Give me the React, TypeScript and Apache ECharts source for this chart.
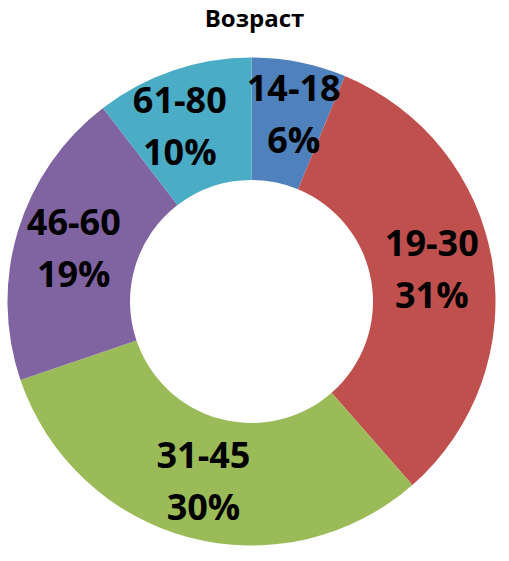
import React, { useEffect, useRef } from "react";
import * as echarts from "echarts";

const title = "Возраст";
const categories = ["14-18", "19-30", "31-45", "46-60", "61-80"];
const values = [6, 31, 30, 19, 10];
const colors = ["#4F81BD", "#C0504D", "#9BBB59", "#8064A2", "#4BACC6"];
const labelOffsets: Record<string, number[]> = {
  "14-18": [6, -6],
  "61-80": [-12, 0],
  "19-30": [-3, -3],
};

export default function App() {
  const ref = useRef<HTMLDivElement>(null);
  useEffect(() => {
    if (!ref.current) return;
    const chart = echarts.init(ref.current, undefined, { renderer: "svg" });
    chart.setOption({
      animation: false,
      backgroundColor: "#ffffff",
      title: {
        text: title,
        left: "center",
        top: 0,
        textStyle: {
          fontFamily: "Open Sans",
          fontWeight: "bold",
          fontSize: 24,
          color: "#000000",
        },
      },
      series: [
        {
          type: "pie",
          center: [251.5, 301.5],
          radius: [121.5, 244],
          startAngle: 90,
          clockwise: true,
          avoidLabelOverlap: false,
          itemStyle: { borderWidth: 0 },
          label: {
            show: true,
            position: "inside",
            formatter: "{b}\n{c}%",
            fontFamily: "Open Sans",
            fontWeight: "bold",
            fontSize: 36,
            lineHeight: 52,
            color: "#000000",
            textBorderWidth: 0,
          },
          labelLine: { show: false },
          data: categories.map((c, i) => ({
            name: c,
            value: values[i],
            itemStyle: { color: colors[i] },
            label: labelOffsets[c] ? { offset: labelOffsets[c] } : undefined,
          })),
        },
      ],
    });
    return () => chart.dispose();
  }, []);
  return (
    <div
      ref={ref}
      style={{ position: "absolute", left: 0, top: 0, width: 509, height: 561 }}
    />
  );
}
